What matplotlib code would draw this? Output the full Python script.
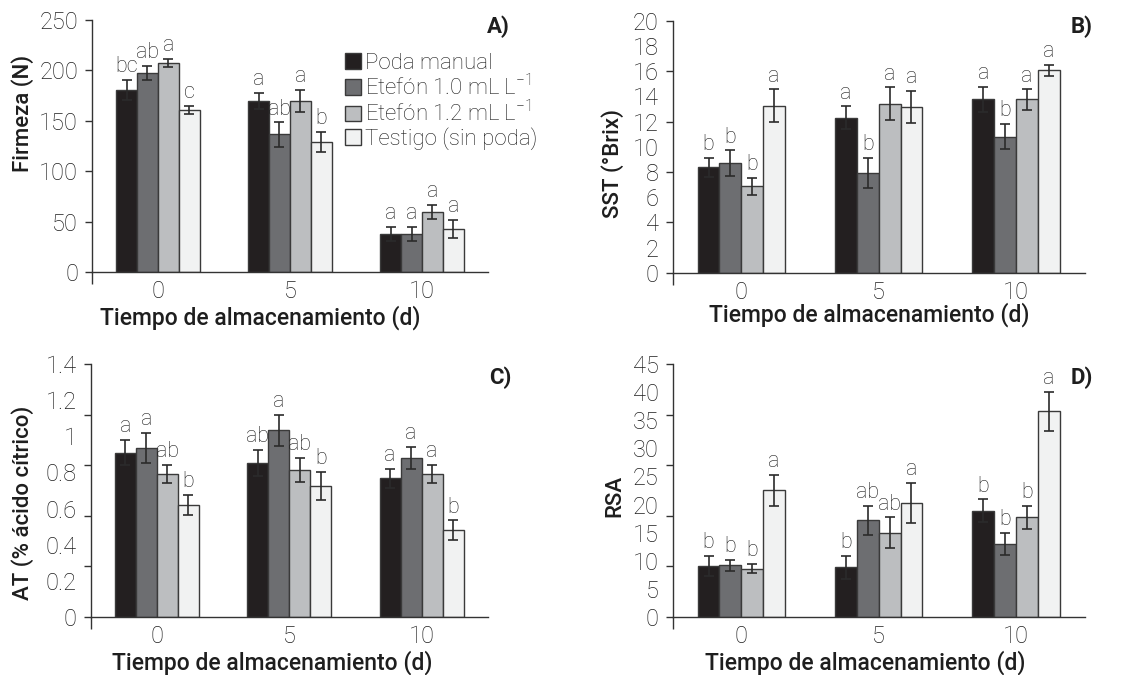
import numpy as np
import matplotlib
matplotlib.use("Agg")
import matplotlib.pyplot as plt
from matplotlib.ticker import FixedLocator, NullFormatter, FixedFormatter

plt.rcParams['font.family'] = ['Roboto', 'DejaVu Sans']
plt.rcParams['mathtext.default'] = 'regular'

dias = ['0', '5', '10']
tratamientos = ['Poda manual', 'Etefón 1.0 mL L$^{-1}$', 'Etefón 1.2 mL L$^{-1}$', 'Testigo (sin poda)']
colores = ['#231f20', '#6d6e71', '#bcbec0', '#f1f2f2']

# Firmeza (N): rows = treatment, cols = day
firmeza = [[181, 169.5, 38], [197.5, 136.5, 38], [207.5, 170, 59.5], [161, 129, 43]]
firmeza_err = [[10, 8, 7], [7, 12, 7], [4, 11, 7], [4, 10, 9]]
firmeza_let = [['bc', 'a', 'a'], ['ab', 'ab', 'a'], ['a', 'a', 'a'], ['c', 'b', 'a']]

# SST (°Brix)
sst = [[8.35, 12.3, 13.75], [8.7, 7.9, 10.8], [6.85, 13.4, 13.75], [13.25, 13.15, 16.05]]
sst_err = [[0.75, 0.9, 1.0], [1.0, 1.2, 1.0], [0.65, 1.3, 0.8], [1.3, 1.3, 0.45]]
sst_let = [['b', 'a', 'a'], ['b', 'b', 'b'], ['b', 'a', 'a'], ['a', 'a', 'a']]

# AT (% ácido cítrico)
at = [[0.91, 0.855, 0.767], [0.938, 1.034, 0.882], [0.79, 0.814, 0.79], [0.62, 0.725, 0.481]]
at_err = [[0.07, 0.072, 0.052], [0.083, 0.085, 0.061], [0.05, 0.065, 0.05], [0.055, 0.08, 0.053]]
at_let = [['a', 'ab', 'a'], ['a', 'a', 'a'], ['ab', 'ab', 'a'], ['b', 'b', 'b']]

# RSA
rsa = [[9.05, 8.8, 18.9], [9.15, 17.2, 13.0], [8.55, 15.0, 17.7], [22.5, 20.3, 36.6]]
rsa_err = [[1.8, 2.1, 2.0], [0.95, 2.6, 2.0], [0.8, 2.7, 2.0], [2.85, 3.6, 3.5]]
rsa_let = [['b', 'b', 'b'], ['b', 'ab', 'b'], ['b', 'ab', 'b'], ['a', 'a', 'a']]

fig = plt.figure(figsize=(11.37, 6.75), dpi=100)

paneles = [
    # data, err, letters, ylabel, panel, rect, ymax, tick marks, label values, label texts, ylabel pos, xlabel pos, tag pos
    (firmeza, firmeza_err, firmeza_let, 'Firmeza (N)', 'A)', [0.0809, 0.597, 0.3483, 0.3733], 250,
     [0, 50, 100, 150, 200, 250], [0, 50, 100, 150, 200, 250], ['0', '50', '100', '150', '200', '250'],
     (-0.174, 0.631), (0.424, -0.18), (1.025, 0.972)),
    (sst, sst_err, sst_let, 'SST (°Brix)', 'B)', [0.5916, 0.596, 0.3624, 0.3733], 20,
     [0, 4, 8, 12, 16, 20], list(range(0, 21, 2)), [str(v) for v in range(0, 21, 2)],
     (-0.145, 0.435), (0.476, -0.168), (0.993, 0.975)),
    (at, at_err, at_let, 'AT (% ácido cítrico)', 'C)', [0.0798, 0.0864, 0.3492, 0.3739], 1.4,
     list(np.linspace(0, 1.4, 6)), [0, 0.2, 0.4, 0.6, 0.8, 1.0, 1.2, 1.4],
     ['0', '0.2', '0.4', '0.6', '0.8', '1', '1.2', '1.4'],
     (-0.171, 0.45), (0.457, -0.182), (1.031, 0.946)),
    (rsa, rsa_err, rsa_let, 'RSA', 'D)', [0.5916, 0.0864, 0.3624, 0.3739], 45,
     list(np.linspace(0, 45, 6)), list(range(0, 46, 5)), [str(v) for v in range(0, 46, 5)],
     (-0.14, 0.478), (0.467, -0.182), (0.993, 0.946)),
]

x = np.arange(len(dias))
w = 0.159
txtcol = '#1e1e1e'

for k, (datos, err, letras, ylab, tag, rect, ymax, marcas, yvals, ytxt, ylpos, xlpos, tagpos) in enumerate(paneles):
    ax = fig.add_axes(rect)
    for i in range(4):
        pos = x + (i - 1.5) * w
        ax.bar(pos, datos[i], w, color=colores[i], edgecolor='#3a3a3a', linewidth=1,
               label=tratamientos[i], zorder=2)
        ax.errorbar(pos, datos[i], yerr=err[i], fmt='none', ecolor='#2b2b2b',
                    elinewidth=1.2, capsize=3.5, capthick=1.2, zorder=3)
        for j in range(len(dias)):
            ax.annotate(letras[i][j], (pos[j], datos[i][j] + err[i][j]), xytext=(0, 2),
                        textcoords='offset points', ha='center', va='bottom',
                        fontsize=15.5, fontweight='light', color=txtcol)
    ax.set_xlim(-0.5, 2.5)
    ax.set_ylim(0, ymax)
    for s in ['top', 'right']:
        ax.spines[s].set_visible(False)
    for s in ['left', 'bottom']:
        ax.spines[s].set_color('#333333')
        ax.spines[s].set_linewidth(1)

    # y tick marks (major) and labels (minor, no mark)
    ax.yaxis.remove_overlapping_locs = False
    ax.yaxis.set_major_locator(FixedLocator(marcas))
    ax.yaxis.set_major_formatter(NullFormatter())
    ax.yaxis.set_minor_locator(FixedLocator(yvals))
    ax.yaxis.set_minor_formatter(FixedFormatter(ytxt))
    ax.tick_params(axis='y', which='major', length=5, width=1, color='#333333', direction='out')
    ax.tick_params(axis='y', which='minor', length=0, pad=10, labelsize=17, labelcolor=txtcol)
    for t in ax.yaxis.get_minorticklabels():
        t.set_fontweight('light')

    # x ticks
    ax.set_xticks(x)
    ax.set_xticklabels(dias, fontsize=17, fontweight='light', color=txtcol)
    ax.tick_params(axis='x', which='major', length=0, pad=6)
    ax.xaxis.remove_overlapping_locs = False
    ax.xaxis.set_minor_locator(FixedLocator([-0.5]))
    ax.tick_params(axis='x', which='minor', length=8.5, width=1, color='#333333', direction='out')

    ax.set_ylabel(ylab, fontsize=16, fontweight='medium', color=txtcol)
    ax.yaxis.set_label_coords(*ylpos)
    ax.yaxis.label.set_va('center')
    ax.set_xlabel('Tiempo de almacenamiento (d)', fontsize=16.5, fontweight='medium', color=txtcol)
    ax.xaxis.set_label_coords(*xlpos)
    ax.xaxis.label.set_va('center')

    ax.text(tagpos[0], tagpos[1], tag, transform=ax.transAxes, ha='center', va='center',
            fontsize=16, fontweight='bold', color=txtcol)

    if k == 0:
        leg = ax.legend(loc='upper left', bbox_to_anchor=(0.64, 0.87), frameon=False,
                        fontsize=16, handlelength=0.7, handleheight=0.7, handletextpad=0.2,
                        labelspacing=0.05, borderaxespad=0, borderpad=0)
        for t in leg.get_texts():
            t.set_fontweight('light')
            t.set_color(txtcol)

fig.savefig('out.png', dpi=100)
